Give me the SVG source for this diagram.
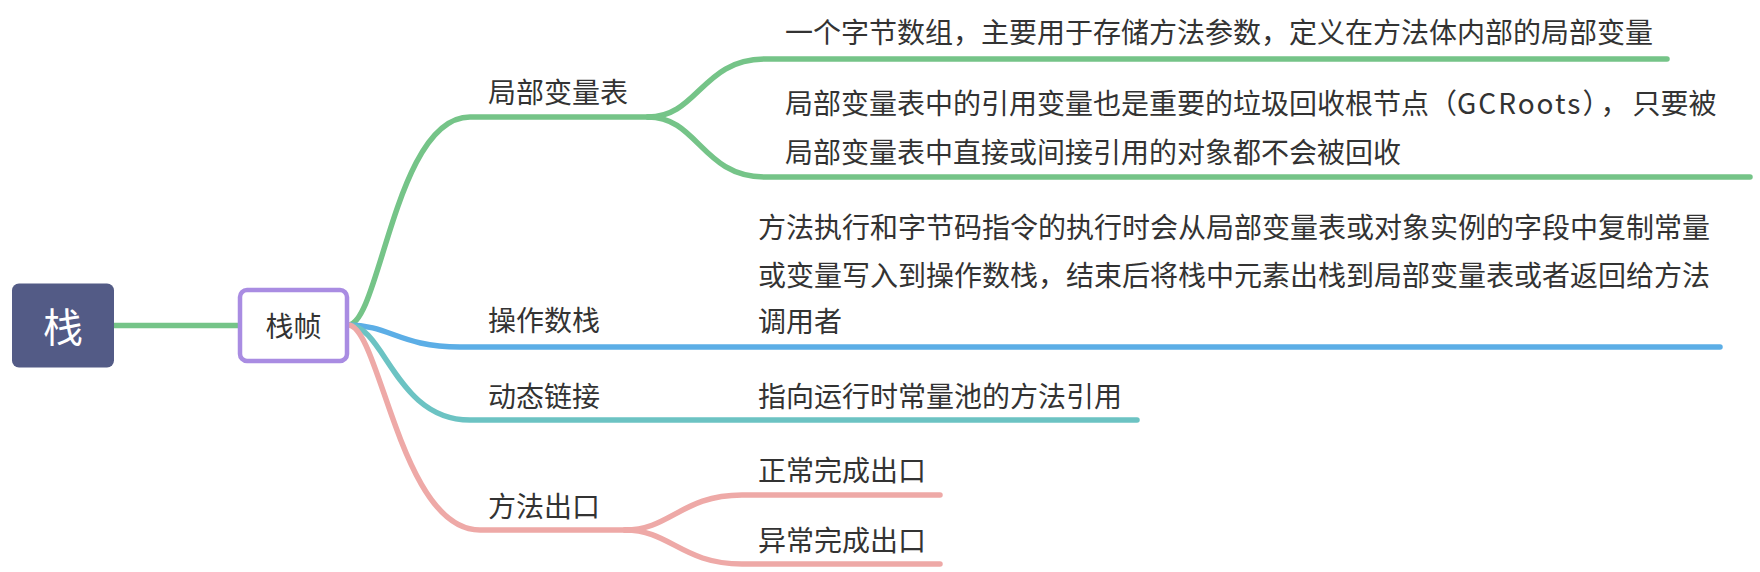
<svg xmlns="http://www.w3.org/2000/svg" width="1760" height="572" viewBox="0 0 1760 572">
<style>
.t{font-family:"Noto Sans CJK SC","Microsoft YaHei",sans-serif;font-size:28px;fill:#333333;dominant-baseline:central}
.c{fill:none;stroke-width:5.5;stroke-linecap:round}
.g{stroke:#75c488}.b{stroke:#5caee6}.tl{stroke:#6cc3c3}.p{stroke:#eea9a7}
</style>
<rect width="1760" height="572" fill="#ffffff"/>
<g id="connectors">
<path class="c g" d="M114 325.5 L240 325.5"/>
<path class="c g" d="M348 325 C380 325 395 117 470 117 L650 117"/>
<path class="c g" d="M648 117 C698 117 702 59 765 59 L1667 59"/>
<path class="c g" d="M648 117 C698 117 702 177 765 177 L1750 177"/>
<path class="c b" d="M348 325 C390 325 400 347 460 347 L1720 347"/>
<path class="c tl" d="M348 325 C385 325 395 420 470 420 L1137 420"/>
<path class="c p" d="M348 325 C380 325 400 530 480 530 L635 530"/>
<path class="c p" d="M625 530 C670 530 682 495 742 495 L940 495"/>
<path class="c p" d="M625 530 C670 530 682 564 742 564 L940 564"/>
</g>
<g id="root">
<rect x="12" y="283.5" width="102" height="84" rx="7" fill="#535b86"/>
<text class="t" x="63" y="325" text-anchor="middle" style="font-size:40px;fill:#ffffff">栈</text>
</g>
<g id="frame">
<rect x="240" y="290" width="107" height="71" rx="7" fill="#ffffff" stroke="#a98ce2" stroke-width="4.5"/>
<text class="t" x="293.5" y="325" text-anchor="middle">栈帧</text>
</g>
<g id="n-lvt">
<text class="t" x="488" y="91">局部变量表</text>
</g>
<g id="n-lvt-1">
<text class="t" x="785" y="31">一个字节数组，主要用于存储方法参数，定义在方法体内部的局部变量</text>
</g>
<g id="n-lvt-2">
<text class="t" x="785" y="102">局部变量表中的引用变量也是重要的垃圾回收根节点（<tspan letter-spacing="2">GCRoots</tspan><tspan letter-spacing="4">），</tspan>只要被</text>
<text class="t" x="785" y="151">局部变量表中直接或间接引用的对象都不会被回收</text>
</g>
<g id="n-ops">
<text class="t" x="488" y="319">操作数栈</text>
</g>
<g id="n-ops-1">
<text class="t" x="758" y="226">方法执行和字节码指令的执行时会从局部变量表或对象实例的字段中复制常量</text>
<text class="t" x="758" y="274">或变量写入到操作数栈，结束后将栈中元素出栈到局部变量表或者返回给方法</text>
<text class="t" x="758" y="320">调用者</text>
</g>
<g id="n-dyn">
<text class="t" x="488" y="395">动态链接</text>
</g>
<g id="n-dyn-1">
<text class="t" x="758" y="395">指向运行时常量池的方法引用</text>
</g>
<g id="n-exit">
<text class="t" x="488" y="505">方法出口</text>
</g>
<g id="n-exit-1">
<text class="t" x="758" y="469">正常完成出口</text>
</g>
<g id="n-exit-2">
<text class="t" x="758" y="539">异常完成出口</text>
</g>
</svg>
